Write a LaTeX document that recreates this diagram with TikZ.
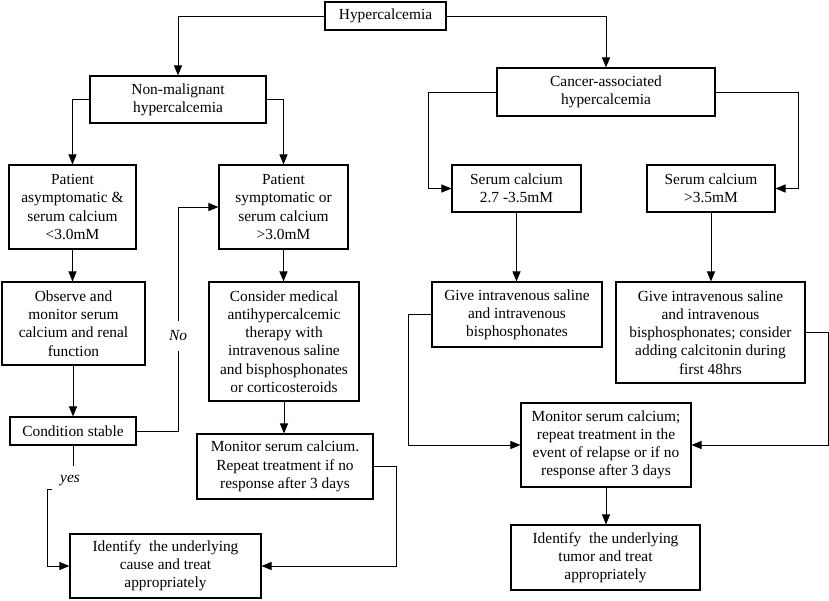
\documentclass[tikz,border=0pt]{standalone}
\usepackage{fontspec}
\setmainfont{Liberation Serif}
\usetikzlibrary{arrows.meta}
\newcommand\mkbox[6]{\node[box, minimum width={#4-#2}, minimum height={#5-#3}] (#1) at ({(#2+#4)/2},{(#3+#5)/2}) {#6};}
\begin{document}
\begin{tikzpicture}[x=1pt,y=-1pt,
 box/.style={draw, line width=1.1pt, align=center, inner sep=0pt, font=\fontsize{15.4}{18.2}\selectfont},
 arr/.style={line width=1pt, -{Triangle[length=10pt,width=8pt]}},
 lbl/.style={fill=white, font=\fontsize{15.4}{18}\selectfont\itshape, inner sep=0pt}]
\useasboundingbox (0,0) rectangle (829,600);
\mkbox{hyp}{325}{2}{446}{30}{Hypercalcemia}
\mkbox{nonmal}{90}{76}{266}{123}{Non-malignant\\hypercalcemia}
\mkbox{cancer}{497}{68}{715}{116}{Cancer-associated\\hypercalcemia}
\mkbox{asym}{9}{165}{136}{249}{Patient\\asymptomatic \&\\serum calcium\\<3.0mM}
\mkbox{symp}{219}{165}{348}{249}{Patient\\symptomatic or\\serum calcium\\>3.0mM}
\mkbox{sa}{452}{165}{581}{212}{Serum calcium\\2.7 -3.5mM}
\mkbox{sb}{647}{165}{775}{212}{Serum calcium\\>3.5mM}
\mkbox{observe}{2}{282}{145}{365}{Observe and\\monitor serum\\calcium and renal\\function}
\mkbox{consider}{209}{282}{359}{401}{Consider medical\\antihypercalcemic\\therapy with\\intravenous saline\\and bisphosphonates\\or corticosteroids}
\mkbox{giva}{432}{282}{602}{347}{Give intravenous saline\\and intravenous\\bisphosphonates}
\mkbox{givb}{616}{282}{805}{383}{Give intravenous saline\\and intravenous\\bisphosphonates; consider\\adding calcitonin during\\first 48hrs}
\mkbox{cond}{10}{417}{136}{445}{Condition stable}
\mkbox{mona}{197}{434}{373}{499}{Monitor serum calcium.\\Repeat treatment if no\\response after 3 days}
\mkbox{monb}{521}{403}{691}{487}{Monitor serum calcium;\\repeat treatment in the\\event of relapse or if no\\response after 3 days}
\mkbox{ida}{70}{534}{261}{598}{Identify\ \ the underlying\\cause and treat\\appropriately}
\mkbox{idb}{511}{525}{700}{590}{Identify\ \ the underlying\\tumor and treat\\appropriately}
% connectors
\draw[arr] (hyp.west) -| (nonmal.north);
\draw[arr] (hyp.east) -| (cancer.north);
\draw[arr] (nonmal.west) -| (asym.north);
\draw[arr] (nonmal.east) -| (symp.north);
\draw[arr] (cancer.west) -- ++(-68,0) |- (sa.west);
\draw[arr] (cancer.east) -- ++(83,0) |- (sb.east);
\draw[arr] (asym.south) -- (asym.south |- observe.north);
\draw[arr] (cond.north |- observe.south) -- (cond.north);
\draw[arr] (cond.east) -- ++(42,0) |- (symp.west);
\node[lbl, minimum width=20, minimum height=30] (no) at (178,336) {No};
\draw[arr] (cond.south) |- (47,489) |- (ida.west);
\node[lbl, minimum width=36, minimum height=30] (yes) at (70,481) {yes};
\draw[arr] (symp.south) -- (symp.south |- consider.north);
\draw[arr] (consider.south) -- (consider.south |- mona.north);
\draw[arr] (mona.east) -- ++(23,0) |- (ida.east);
\draw[arr] (sa.south) -- (sa.south |- giva.north);
\draw[arr] (sb.south) -- (sb.south |- givb.north);
\draw[arr] (giva.west) -- ++(-23,0) |- (monb.west);
\draw[arr] (givb.east) -- ++(23,0) |- (monb.east);
\draw[arr] (monb.south) -- (monb.south |- idb.north);
\end{tikzpicture}
\end{document}
